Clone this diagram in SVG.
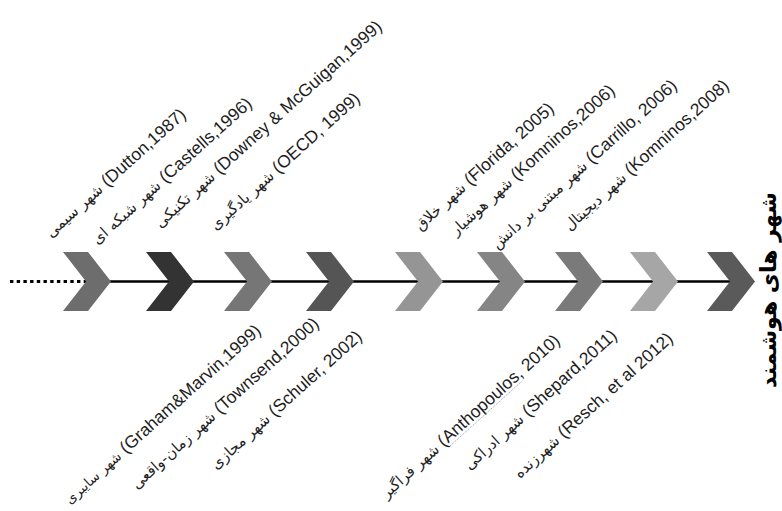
<svg xmlns="http://www.w3.org/2000/svg" xmlns:xlink="http://www.w3.org/1999/xlink" width="782" height="511" viewBox="0 0 782 511">
<style>
  .lbl { font-family: "Liberation Sans", "DejaVu Sans", sans-serif; font-size: 17.5px; fill: #1e1e1e; text-anchor: end; }
  .fa { font-family: "DejaVu Sans", sans-serif; font-size: 15px; }
  .fa-s { font-family: "DejaVu Sans", sans-serif; font-size: 13.5px; }
  .title { font-family: "DejaVu Sans", sans-serif; font-weight: bold; font-size: 22px; fill: #000; text-anchor: middle; }
  .axis { stroke: #000; stroke-width: 2.6; fill: none; }
  .dots { stroke: #000; stroke-width: 3; fill: none; stroke-dasharray: 3.4 3.3; }
  .squiggle { stroke: #a0a0a0; stroke-width: 0.9; stroke-dasharray: 1.2 1; fill: none; }
</style>
<defs>
  <path id="chev" d="M0,252 L25,252 L48,281.5 L25,311 L0,311 L23,281.5 Z"/>
</defs>
<rect width="782" height="511" fill="#fff"/>

<g id="connectors">
  <line class="dots" x1="10" y1="281.5" x2="86" y2="281.5"/>
  <line class="axis" x1="86" y1="281.5" x2="735" y2="281.5"/>
</g>

<g id="node-1"><use xlink:href="#chev" x="63" fill="#6d6d6d"/></g>
<g id="node-2"><use xlink:href="#chev" x="146" fill="#333333"/></g>
<g id="node-3"><use xlink:href="#chev" x="224" fill="#767676"/></g>
<g id="node-4"><use xlink:href="#chev" x="306" fill="#555555"/></g>
<g id="node-5"><use xlink:href="#chev" x="395" fill="#959595"/></g>
<g id="node-6"><use xlink:href="#chev" x="477" fill="#858585"/></g>
<g id="node-7"><use xlink:href="#chev" x="555" fill="#7a7a7a"/></g>
<g id="node-8"><use xlink:href="#chev" x="630" fill="#a6a6a6"/></g>
<g id="node-9"><use xlink:href="#chev" x="707" fill="#5a5a5a"/></g>

<g id="label-1"><text class="lbl" transform="translate(187,116) rotate(-42)"><tspan class="fa">شهر سیمی</tspan> (Dutton,1987)</text></g>
<g id="label-2"><text class="lbl" transform="translate(253,105) rotate(-42)"><tspan class="fa">شهر شبکه ای</tspan> (Castells,1996)</text></g>
<g id="label-3"><text class="lbl" transform="translate(383,28) rotate(-42)"><tspan class="fa">شهر تکنیکی</tspan> (Downey &amp; McGuigan,1999)</text></g>
<g id="label-4"><text class="lbl" transform="translate(361,100) rotate(-42)"><tspan class="fa">شهر یادگیری</tspan> (OECD, 1999)</text></g>
<g id="label-5"><text class="lbl" transform="translate(555,110) rotate(-42)"><tspan class="fa">شهر خلاق</tspan> (Florida, 2005)</text></g>
<g id="label-6"><text class="lbl" transform="translate(616,92) rotate(-42)"><tspan class="fa">شهر هوشیار</tspan> (Komninos,2006)</text></g>
<g id="label-7"><text class="lbl" transform="translate(678,87) rotate(-42)"><tspan class="fa">شهر مبتنی بر دانش</tspan> (Carrillo, 2006)</text></g>
<g id="label-8"><text class="lbl" transform="translate(730,87) rotate(-42)"><tspan class="fa">شهر دیجیتال</tspan> (Komninos,2008)</text></g>
<g id="label-9"><text class="lbl" transform="translate(262,332) rotate(-42)"><tspan class="fa-s">شهر سایبری</tspan> (Graham&amp;Marvin,1999)</text></g>
<g id="label-10"><text class="lbl" transform="translate(320,325) rotate(-42)"><tspan class="fa">شهر زمان-واقعی</tspan> (Townsend,2000)</text></g>
<g id="label-11"><text class="lbl" transform="translate(363,338) rotate(-42)"><tspan class="fa">شهر مجازی</tspan> (Schuler, 2002)</text></g>
<g id="label-12" transform="translate(561,342) rotate(-42)">
  <text class="lbl"><tspan class="fa">شهر فراگیر</tspan> (Anthopoulos, 2010)</text>
  <line class="squiggle" x1="-151.8" y1="3" x2="-54.5" y2="3"/>
</g>
<g id="label-13"><text class="lbl" transform="translate(618,337) rotate(-42)"><tspan class="fa">شهر ادراکی</tspan> (Shepard,2011)</text></g>
<g id="label-14"><text class="lbl" transform="translate(674,340) rotate(-42)"><tspan class="fa">شهرزنده</tspan> (Resch, et al 2012)</text></g>

<g id="title"><text class="title" transform="translate(776,290) rotate(-90)">شهر های هوشمند</text></g>
</svg>
